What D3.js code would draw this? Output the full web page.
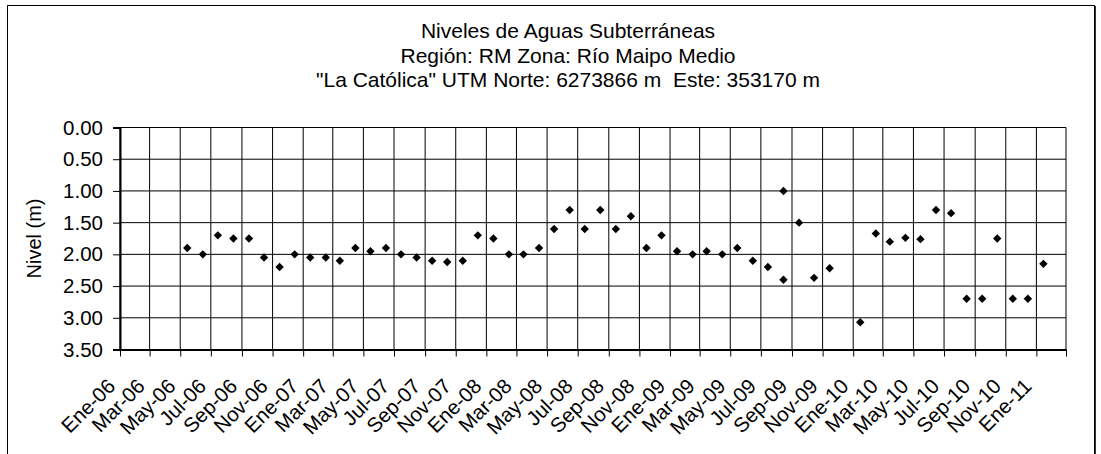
<!DOCTYPE html>
<html>
<head>
<meta charset="utf-8">
<script src="https://cdn.jsdelivr.net/npm/d3@7"></script>
<style>
  html, body { margin: 0; padding: 0; background: #fff; }
  svg { display: block; font-family: "Liberation Sans", Arial, sans-serif; }
</style>
</head>
<body>
<svg id="chart" width="1101" height="454"></svg>
<script>
// Groundwater level readings, well "La Católica"
const titleLines = [
  "Niveles de Aguas Subterráneas",
  "Región: RM Zona: Río Maipo Medio",
  "\"La Católica\" UTM Norte: 6273866 m  Este: 353170 m"
];
const yTitle = "Nivel (m)";

const fechas = [
  "2006-05-15","2006-06-15","2006-07-15","2006-08-15","2006-09-15","2006-10-15","2006-11-15","2006-12-15",
  "2007-01-15","2007-02-15","2007-03-15","2007-04-15","2007-05-15","2007-06-15","2007-07-15","2007-08-15",
  "2007-09-15","2007-10-15","2007-11-15","2007-12-15",
  "2008-01-15","2008-02-15","2008-03-15","2008-04-15","2008-05-15","2008-06-15","2008-07-15","2008-08-15",
  "2008-09-15","2008-10-15","2008-11-15","2008-12-15",
  "2009-01-15","2009-02-15","2009-03-15","2009-04-15","2009-05-15","2009-06-15","2009-07-15","2009-08-15",
  "2009-08-15","2009-09-15","2009-10-15","2009-11-15",
  "2010-01-15","2010-02-15","2010-03-15","2010-04-15","2010-05-15","2010-06-15","2010-07-15","2010-08-15",
  "2010-09-15","2010-10-15","2010-11-15","2010-12-15",
  "2011-01-15"
];
const niveles = [
  1.90, 2.00, 1.70, 1.75, 1.75, 2.05, 2.20, 2.00,
  2.05, 2.05, 2.10, 1.90, 1.95, 1.90, 2.00, 2.05,
  2.10, 2.12, 2.10, 1.70,
  1.75, 2.00, 2.00, 1.90, 1.60, 1.30, 1.60, 1.30,
  1.60, 1.40, 1.90, 1.70,
  1.95, 2.00, 1.95, 2.00, 1.90, 2.10, 2.20, 2.40,
  1.00, 1.50, 2.37, 2.22,
  3.07, 1.67, 1.80, 1.74, 1.76, 1.30, 1.35, 2.70,
  2.70, 1.75, 2.70, 2.70,
  2.15
];

const xTickLabels = [
  "Ene-06","Mar-06","May-06","Jul-06","Sep-06","Nov-06",
  "Ene-07","Mar-07","May-07","Jul-07","Sep-07","Nov-07",
  "Ene-08","Mar-08","May-08","Jul-08","Sep-08","Nov-08",
  "Ene-09","Mar-09","May-09","Jul-09","Sep-09","Nov-09",
  "Ene-10","Mar-10","May-10","Jul-10","Sep-10","Nov-10",
  "Ene-11"
];
const yTicks = [0, 0.5, 1, 1.5, 2, 2.5, 3, 3.5];
const xDomain = ["2006-01-01", "2011-03-01"];

const parse = d3.utcParse("%Y-%m-%d");
const data = fechas.map((f, i) => ({ fecha: parse(f), nivel: niveles[i] }));

const svg = d3.select("#chart");
const plot = { left: 120, right: 1066, top: 127.5, bottom: 349.5 };

const x = d3.scaleUtc()
  .domain(xDomain.map(parse))
  .range([plot.left, plot.right]);
const y = d3.scaleLinear()
  .domain([0, 3.5])
  .range([plot.top, plot.bottom]);

const xTicks = d3.utcMonth.every(2).range(x.domain()[0], d3.utcDay.offset(x.domain()[1], 1));

// Outer chart frame
svg.append("rect")
  .attr("x", 7.5).attr("y", 5.5)
  .attr("width", 1087).attr("height", 470)
  .attr("fill", "none").attr("stroke", "#000").attr("stroke-width", 1);
svg.append("line")
  .attr("x1", 1095.5).attr("x2", 1095.5).attr("y1", 6).attr("y2", 454)
  .attr("stroke", "#333").attr("stroke-width", 1);

// Title
const title = svg.append("text")
  .attr("text-anchor", "middle")
  .attr("font-size", 21)
  .attr("fill", "#000")
  .style("white-space", "pre");
titleLines.forEach((t, i) => {
  title.append("tspan").attr("x", 568).attr("y", 38 + i * 24.5).text(t);
});

// Gridlines
const grid = svg.append("g").attr("stroke", "#000").attr("stroke-width", 1);
grid.selectAll("line.h").data(yTicks).join("line")
  .attr("class", "h")
  .attr("x1", plot.left).attr("x2", plot.right)
  .attr("y1", d => y(d)).attr("y2", d => y(d));
grid.selectAll("line.v").data(xTicks).join("line")
  .attr("class", "v")
  .attr("x1", d => x(d)).attr("x2", d => x(d))
  .attr("y1", plot.top).attr("y2", plot.bottom);

// Y axis
const yAxis = svg.append("g")
  .attr("transform", `translate(${plot.left},0)`)
  .call(d3.axisLeft(y).tickValues(yTicks).tickFormat(d3.format(".2f")).tickSize(7).tickPadding(10));
yAxis.select(".domain").attr("stroke", "#000").attr("stroke-width", 2);
yAxis.selectAll(".tick line").attr("stroke", "#000");
yAxis.selectAll(".tick text")
  .attr("font-size", 20.5)
  .attr("font-family", "Liberation Sans, Arial, sans-serif")
  .attr("fill", "#000");

// X axis
const xAxis = svg.append("g")
  .attr("transform", `translate(0,${plot.bottom})`)
  .call(d3.axisBottom(x).tickValues(xTicks)
    .tickFormat((d, i) => xTickLabels[i] || "")
    .tickSize(7).tickSizeOuter(0));
xAxis.select(".domain").attr("stroke", "#000").attr("stroke-width", 2);
xAxis.selectAll(".tick line").attr("stroke", "#000");
xAxis.selectAll(".tick text")
  .attr("font-size", 20.5)
  .attr("font-family", "Liberation Sans, Arial, sans-serif")
  .attr("fill", "#000")
  .attr("text-anchor", "end")
  .attr("dy", null)
  .attr("y", null)
  .attr("transform", "translate(-4,38) rotate(-45)");

// Y axis title
svg.append("text")
  .attr("transform", `translate(41,${(plot.top + plot.bottom) / 2}) rotate(-90)`)
  .attr("text-anchor", "middle")
  .attr("font-size", 20)
  .attr("fill", "#000")
  .text(yTitle);

// Readings as diamond markers
const r = 4.2;
svg.append("g").selectAll("path").data(data).join("path")
  .attr("d", d => {
    const cx = x(d.fecha), cy = y(d.nivel);
    return `M${cx},${cy - r}L${cx + r},${cy}L${cx},${cy + r}L${cx - r},${cy}Z`;
  })
  .attr("fill", "#000");
</script>
</body>
</html>
